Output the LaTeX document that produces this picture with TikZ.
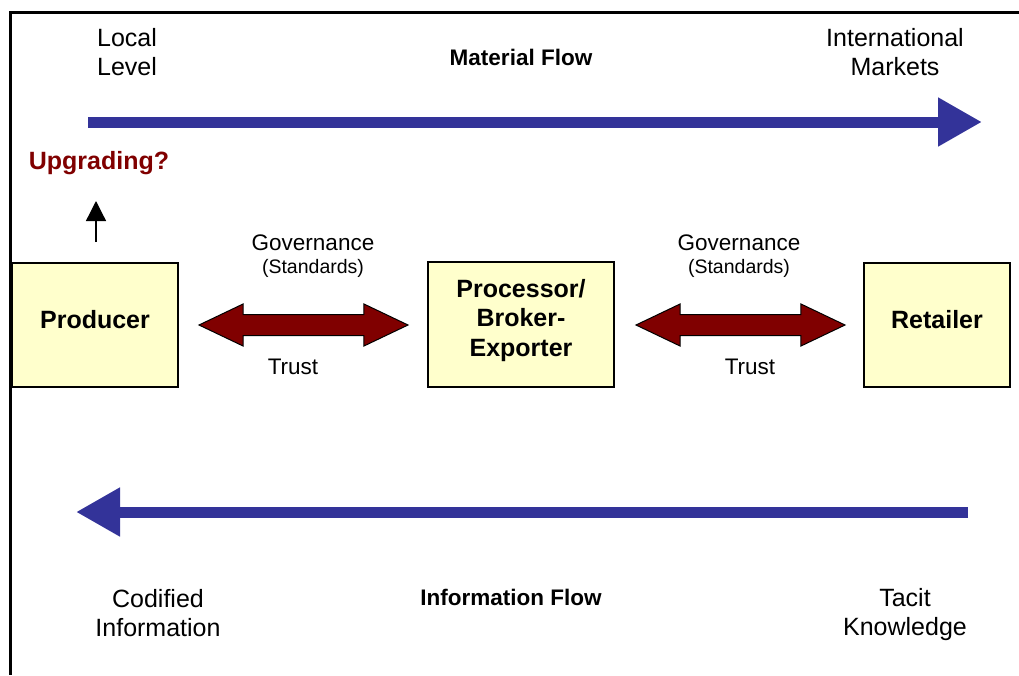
\documentclass[tikz,border=0pt]{standalone}
\usepackage{fontspec}
\setmainfont{Liberation Sans}
\usetikzlibrary{arrows.meta}
\usetikzlibrary{shapes.arrows}
\definecolor{flowblue}{RGB}{51,51,153}
\definecolor{govred}{RGB}{128,0,0}
\definecolor{boxyellow}{RGB}{255,255,204}

\begin{document}
\begin{tikzpicture}[x=1pt, y=-1pt,
    actor/.style={draw, fill=boxyellow, line width=1.2pt, align=center, inner sep=0pt, font=\fontsize{25}{29.5}\selectfont\bfseries},
    endlabel/.style={align=center, font=\fontsize{25}{29}\selectfont},
    flowtitle/.style={font=\fontsize{22.5}{27}\selectfont\bfseries},
    govlabel/.style={font=\fontsize{22.5}{27}\selectfont},
    stdlabel/.style={font=\fontsize{19.5}{23}\selectfont},
    flow/.style={line width=11pt, flowblue, -{Triangle[length=44pt, width=46pt]}},
    link/.style={double arrow, draw, fill=govred, line width=1pt, inner xsep=0pt, inner ysep=10pt, minimum height=209pt, double arrow head extend=10.5pt, double arrow tip angle=51}]
      \useasboundingbox (0,0) rectangle (1019,675);
      \draw[line width=3pt] (1019,12) -- (10,12) -- (10,675);

      % top row
      \node[endlabel] (local) at (127,52) {Local\\Level};
      \node[flowtitle] (matflow) at (521,57) {Material Flow};
      \node[endlabel] (intl) at (895,52) {International\\Markets};
      \coordinate (m1) at (88,122);
      \coordinate (m2) at (982,122);
      \draw[flow] (m1) -- (m2);

      \node[font=\fontsize{25}{29}\selectfont\bfseries, text=govred] (upg) at (99,163) {Upgrading?};
      \coordinate (u1) at (96,242);
      \coordinate (u2) at (96,201);
      \draw[line width=1.3pt, -{Triangle[length=20pt, width=20pt]}] (u1) -- (u2);

      % chain
      \node[actor, text height=18pt, text depth=12pt, minimum width=166pt, minimum height=124pt] (prod) at (95,325) {Producer};
      \node[actor, text height=68pt, text depth=5pt, minimum width=186pt, minimum height=125pt] (proc) at (521,324.5) {Processor/\\Broker-\\Exporter};
      \node[actor, text height=18pt, text depth=12pt, minimum width=146pt, minimum height=124pt] (ret) at (937,325) {Retailer};

      \node[link] (l1) at (303.5,325) {};
      \node[link] (l2) at (740.5,325) {};

      \node[govlabel] (gov1) at (313,243) {Governance};
      \node[stdlabel] (std1) at (313,268) {(Standards)};
      \node[govlabel] (trust1) at (293,367) {Trust};
      \node[govlabel] (gov2) at (739,243) {Governance};
      \node[stdlabel] (std2) at (739,268) {(Standards)};
      \node[govlabel] (trust2) at (750,367) {Trust};

      % bottom row
      \coordinate (i1) at (968,512);
      \coordinate (i2) at (76,512);
      \draw[flow] (i1) -- (i2);
      \node[endlabel] (cod) at (158,613) {Codified\\Information};
      \node[flowtitle] (infflow) at (511,597) {Information Flow};
      \node[endlabel] (tacit) at (905,615) {Tacit\\Knowledge};
    \end{tikzpicture}
\end{document}
